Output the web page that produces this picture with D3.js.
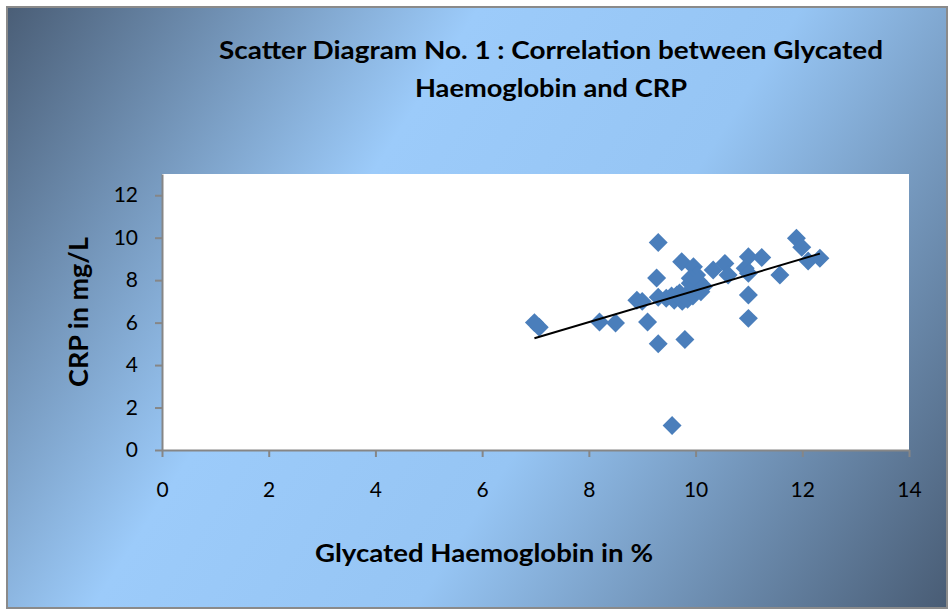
<!DOCTYPE html>
<html>
<head>
<meta charset="utf-8">
<script src="https://cdn.jsdelivr.net/npm/d3@7"></script>
<style>
  html, body { margin: 0; padding: 0; background: #ffffff; }
  svg { display: block; }
</style>
</head>
<body>
<script>
// ---- data ----
const titleLines = ["Scatter Diagram No. 1 : Correlation between Glycated", "Haemoglobin and CRP"];
const xTitle = "Glycated Haemoglobin in %";
const yTitle = "CRP in mg/L";
const xTicks = [0, 2, 4, 6, 8, 10, 12, 14];
const yTicks = [0, 2, 4, 6, 8, 10, 12];
const hba1c = [6.98, 7.07, 8.2, 8.5, 8.9, 9.0, 9.1, 9.3, 9.3, 9.27, 9.3, 9.8, 9.56, 9.74,
  11.89, 11.99, 12.11, 12.33, 10.99, 11.24, 10.93, 10.99, 11.58, 10.99, 10.99, 10.55, 10.61, 10.33, 9.96, 10.02, 9.9,
  9.45, 9.55, 9.6, 9.7, 9.75, 9.85, 9.9, 9.95, 10.0, 10.1, 9.9, 10.05, 9.65, 10.15];
const crp = [6.0, 5.78, 6.03, 5.98, 7.05, 7.0, 6.03, 5.0, 9.77, 8.1, 7.2, 5.2, 1.15, 8.87,
  9.97, 9.55, 8.9, 9.03, 9.1, 9.07, 8.56, 8.32, 8.24, 7.3, 6.2, 8.79, 8.24, 8.48, 8.63, 8.24, 8.09,
  7.15, 7.25, 7.05, 7.4, 7.0, 7.1, 7.5, 7.25, 7.6, 7.45, 7.85, 7.95, 7.3, 7.7];

const W = 950, H = 612;
const plot = { left: 162, right: 909, top: 174, bottom: 450 };

const svg = d3.select("body").append("svg").attr("width", W).attr("height", H);
const defs = svg.append("defs");
const grad = defs.append("linearGradient").attr("id", "bg")
  .attr("gradientUnits", "userSpaceOnUse")
  .attr("x1", 0).attr("y1", 0).attr("x2", W).attr("y2", H);
grad.append("stop").attr("offset", "0").attr("stop-color", "#485b73");
grad.append("stop").attr("offset", "0.36").attr("stop-color", "#9ccbfa");
grad.append("stop").attr("offset", "0.6").attr("stop-color", "#96c5f4");
grad.append("stop").attr("offset", "1").attr("stop-color", "#485b73");

svg.append("rect").attr("x", 0).attr("y", 0).attr("width", W).attr("height", H).attr("fill", "#ffffff");
svg.append("rect").attr("x", 7).attr("y", 7).attr("width", 940).attr("height", 601)
  .attr("fill", "url(#bg)").attr("stroke", "#8a8a8a").attr("stroke-width", 2);

const x = d3.scaleLinear().domain([0, 14]).range([plot.left, plot.right]);
const y = d3.scaleLinear().domain([0, 13]).range([plot.bottom, plot.top]);

svg.append("rect").attr("x", plot.left).attr("y", plot.top)
  .attr("width", plot.right - plot.left).attr("height", plot.bottom - plot.top).attr("fill", "#ffffff");

const font = "Lato, 'Open Sans', sans-serif";

// axes
const gx = svg.append("g").attr("transform", `translate(0,${plot.bottom})`)
  .call(d3.axisBottom(x).tickValues(xTicks).tickSize(7).tickSizeOuter(0).tickPadding(25));
const gy = svg.append("g").attr("transform", `translate(${plot.left},0)`)
  .call(d3.axisLeft(y).tickValues(yTicks).tickSize(7).tickSizeOuter(0).tickPadding(17));
[gx, gy].forEach(g => {
  g.select(".domain").attr("stroke", "#868686").attr("stroke-width", 2);
  g.selectAll(".tick line").attr("stroke", "#868686").attr("stroke-width", 2);
  g.selectAll(".tick text").attr("fill", "#000").style("font-family", font).style("font-size", "21px");
});

// points
const pts = hba1c.map((v, i) => ({ x: v, y: crp[i] }));
const sym = d3.symbol().type(d3.symbolSquare).size(180);
svg.append("g").selectAll("path").data(pts).join("path")
  .attr("d", sym)
  .attr("transform", d => `translate(${x(d.x)},${y(d.y)}) rotate(45)`)
  .attr("fill", "#4a7ebb");

// linear trendline from data (least squares)
const mx = d3.mean(hba1c), my = d3.mean(crp);
const sxy = d3.sum(hba1c, (v, i) => (v - mx) * (crp[i] - my));
const sxx = d3.sum(hba1c, v => (v - mx) * (v - mx));
const slope = sxy / sxx, icpt = my - slope * mx;
const [x0, x1] = d3.extent(hba1c);
svg.append("line")
  .attr("x1", x(x0)).attr("y1", y(icpt + slope * x0))
  .attr("x2", x(x1)).attr("y2", y(icpt + slope * x1))
  .attr("stroke", "#000").attr("stroke-width", 2);

// titles
svg.append("text").attr("x", 551).attr("y", 59).attr("text-anchor", "middle")
  .attr("textLength", 664).attr("lengthAdjust", "spacingAndGlyphs")
  .style("font-family", font).style("font-weight", "bold").style("font-size", "25px").text(titleLines[0]);
svg.append("text").attr("x", 551).attr("y", 97).attr("text-anchor", "middle")
  .attr("textLength", 272).attr("lengthAdjust", "spacingAndGlyphs")
  .style("font-family", font).style("font-weight", "bold").style("font-size", "25px").text(titleLines[1]);
svg.append("text").attr("x", 484).attr("y", 562).attr("text-anchor", "middle")
  .attr("textLength", 338).attr("lengthAdjust", "spacingAndGlyphs")
  .style("font-family", font).style("font-weight", "bold").style("font-size", "24px").text(xTitle);
svg.append("text").attr("transform", "translate(88,312) rotate(-90)").attr("text-anchor", "middle")
  .attr("textLength", 150).attr("lengthAdjust", "spacingAndGlyphs")
  .style("font-family", font).style("font-weight", "bold").style("font-size", "26px").text(yTitle);
</script>
</body>
</html>
